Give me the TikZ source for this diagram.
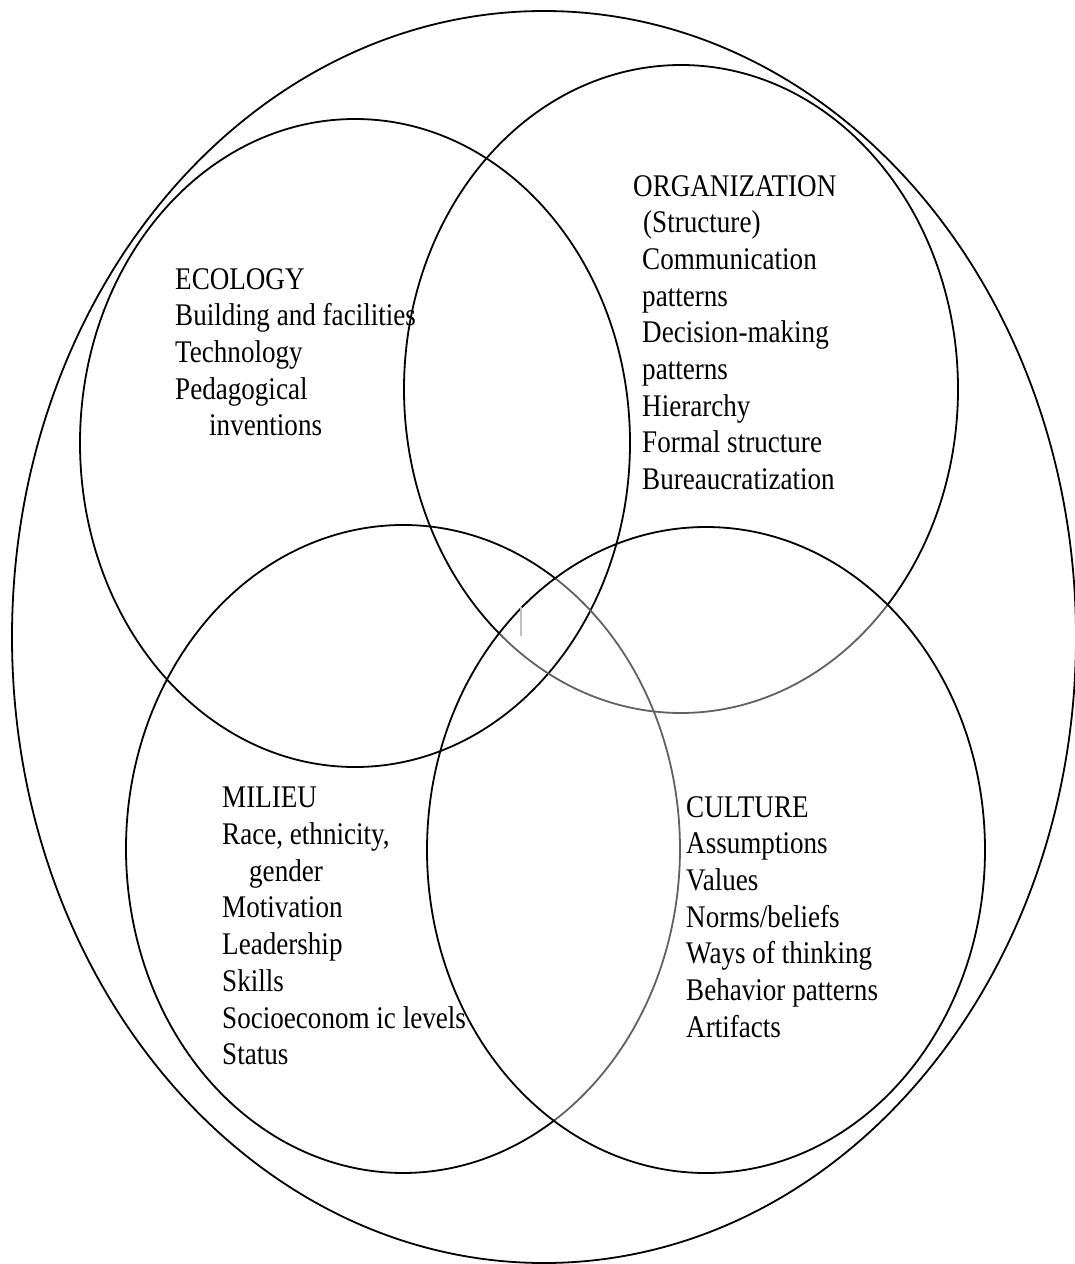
\documentclass[tikz,border=0pt]{standalone}
\usepackage{fontspec}
\setmainfont[FakeStretch=0.86]{Liberation Serif}

\begin{document}
\begin{tikzpicture}[
    x=1pt, y=-1pt,
    ring/.style={draw=black, line width=1.8pt},
    faint/.style={draw=black!62, line width=1.8pt},
    blocktext/.style={anchor=north west, inner sep=0pt, align=left,
                      font=\fontsize{31.5pt}{36.7pt}\selectfont}
  ]
  \useasboundingbox (0,0) rectangle (1075,1264);

  % Outer boundary
  \draw[ring] (544,637) ellipse [x radius=532pt, y radius=626pt];

  % Ecology (top left)
  \draw[ring] (355,443) ellipse [x radius=275pt, y radius=324pt];

  % Organization (top right), lower arc lighter
  \draw[ring] (681,389) ++(-42:277pt and 324pt)
    arc[start angle=-42, end angle=229, x radius=277pt, y radius=324pt];
  \draw[faint] (681,389) ++(-131:277pt and 324pt)
    arc[start angle=-131, end angle=-42, x radius=277pt, y radius=324pt];

  % Milieu (bottom left), right arc lighter
  \draw[ring] (403,849) ++(56.7:277pt and 324pt)
    arc[start angle=56.7, end angle=303.3, x radius=277pt, y radius=324pt];
  \draw[faint] (403,849) ++(-56.7:277pt and 324pt)
    arc[start angle=-56.7, end angle=56.7, x radius=277pt, y radius=324pt];

  % Culture (bottom right)
  \draw[ring] (706,850) ellipse [x radius=279pt, y radius=323pt];

  % stray tick in the middle
  \coordinate (tickTop) at (521,607);
  \coordinate (tickBot) at (521,636);
  \draw[black!25, line width=1.5pt] (tickTop) -- (tickBot);

  % Labels
  \node[blocktext] (ecology) at (175,268)
    {ECOLOGY\\Building and facilities\\Technology\\Pedagogical\\\hspace*{34pt}inventions};
  \node[blocktext] (organization) at (633,175)
    {ORGANIZATION\\\hspace*{10pt}(Structure)\\\hspace*{9pt}Communication\\\hspace*{9pt}patterns\\
     \hspace*{9pt}Decision-making\\\hspace*{9pt}patterns\\\hspace*{9pt}Hierarchy\\
     \hspace*{9pt}Formal structure\\\hspace*{9pt}Bureaucratization};
  \node[blocktext] (milieu) at (222,787)
    {MILIEU\\Race, ethnicity,\\\hspace*{27pt}gender\\Motivation\\Leadership\\Skills\\
     Socioeconom ic levels\\Status};
  \node[blocktext] (culture) at (686,796)
    {CULTURE\\Assumptions\\Values\\Norms/beliefs\\Ways of thinking\\Behavior patterns\\Artifacts};
\end{tikzpicture}
\end{document}
